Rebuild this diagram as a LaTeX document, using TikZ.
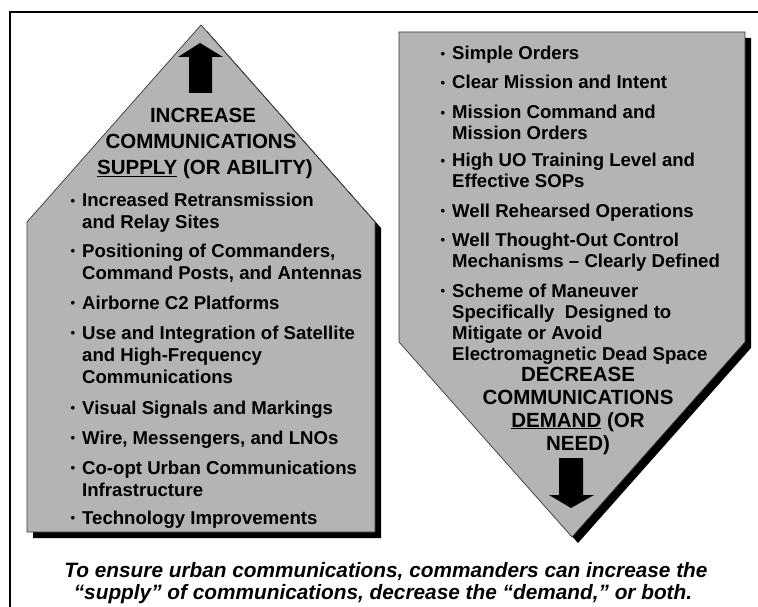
\documentclass[tikz,border=0pt]{standalone}
\usepackage{fontspec}
\setmainfont{Liberation Sans}
\usepackage{tikz}
\usetikzlibrary{positioning}
\definecolor{PGray}{RGB}{180,180,180}
\definecolor{PEdge}{RGB}{55,55,55}
\newcommand{\bul}{\llap{\raisebox{1.5pt}{\fontsize{13}{13}\selectfont\textbullet}\hskip 7pt}}

\begin{document}
\begin{tikzpicture}[x=1pt,y=-1pt,
    panel/.style={fill=PGray,draw=PEdge,line width=0.7pt},
    shade/.style={fill=black},
    blockarrow/.style={fill=black},
    itemtext/.style={anchor=base west,align=left,inner sep=0pt,
      font=\bfseries\fontsize{18.6}{#1}\selectfont},
    headtext/.style={anchor=base,inner sep=0pt,
      font=\bfseries\fontsize{20.5}{24}\selectfont},
    notetext/.style={anchor=base,inner sep=0pt,
      font=\bfseries\itshape\fontsize{20.8}{23}\selectfont}]
  \useasboundingbox (0,0) rectangle (758,607);
  \fill[white] (0,0) rectangle (758,607);
  \draw[line width=2.5pt] (758,12) -- (10,12) -- (10,607);

  % supply side (multi-line items are placed by their last baseline)
  \fill[shade] (207,31) -- (381,228) -- (381,538) -- (33,538) -- (33,228) -- cycle;
  \path[panel] (201,25) -- (375,222) -- (375,532) -- (27,532) -- (27,222) -- cycle;
  \fill[blockarrow] (200,43) -- (223,57) -- (212,57) -- (212,93)
    -- (189,93) -- (189,57) -- (178,57) -- cycle;

  \node[headtext] (inc1) at (203,123) {INCREASE};
  \node[headtext] (inc2) at (201,149) {COMMUNICATIONS};
  \node[headtext] (inc3) at (205,175) {\underline{SUPPLY} (OR ABILITY)};

  \node[itemtext=22] (s1) at (82,229) {\bul Increased Retransmission\\and Relay Sites};
  \node[itemtext=22] (s2) at (82,279) {\bul Positioning of Commanders,\\Command Posts, and Antennas};
  \node[itemtext=22] (s3) at (82,309) {\bul Airborne C2 Platforms};
  \node[itemtext=22] (s4) at (82,383) {\bul Use and Integration of Satellite\\and High-Frequency\\Communications};
  \node[itemtext=22] (s5) at (82,414) {\bul Visual Signals and Markings};
  \node[itemtext=22] (s6) at (82,444) {\bul Wire, Messengers, and LNOs};
  \node[itemtext=22] (s7) at (82,496) {\bul Co-opt Urban Communications\\Infrastructure};
  \node[itemtext=22] (s8) at (82,524) {\bul Technology Improvements};

  % demand side
  \fill[shade] (405,38) -- (751,38) -- (751,348) -- (578,543) -- (405,348) -- cycle;
  \path[panel] (399,32) -- (745,32) -- (745,342) -- (572,537) -- (399,342) -- cycle;
  \fill[blockarrow] (571,508) -- (549,495) -- (559,495) -- (559,458)
    -- (583,458) -- (583,495) -- (594,495) -- cycle;

  \node[itemtext=21] (d1) at (452,60) {\bul Simple Orders};
  \node[itemtext=21] (d2) at (452,89) {\bul Clear Mission and Intent};
  \node[itemtext=21] (d3) at (452,140) {\bul Mission Command and\\Mission Orders};
  \node[itemtext=21] (d4) at (452,188) {\bul High UO Training Level and\\Effective SOPs};
  \node[itemtext=21] (d5) at (452,217) {\bul Well Rehearsed Operations};
  \node[itemtext=21] (d6) at (452,267) {\bul Well Thought-Out Control\\Mechanisms -- Clearly Defined};
  \node[itemtext=21] (d7) at (452,360) {\bul Scheme of Maneuver\\Specifically\ \ Designed to\\Mitigate or Avoid\\Electromagnetic Dead Space};

  \node[headtext] (dec1) at (578,381) {DECREASE};
  \node[headtext] (dec2) at (578,404) {COMMUNICATIONS};
  \node[headtext] (dec3) at (578,427) {\underline{DEMAND} (OR};
  \node[headtext] (dec4) at (578,450) {NEED)};

  \node[notetext] (note1) at (386,577) {To ensure urban communications, commanders can increase the};
  \node[notetext] (note2) at (383,599) {“supply” of communications, decrease the “demand,” or both.};
\end{tikzpicture}
\end{document}
